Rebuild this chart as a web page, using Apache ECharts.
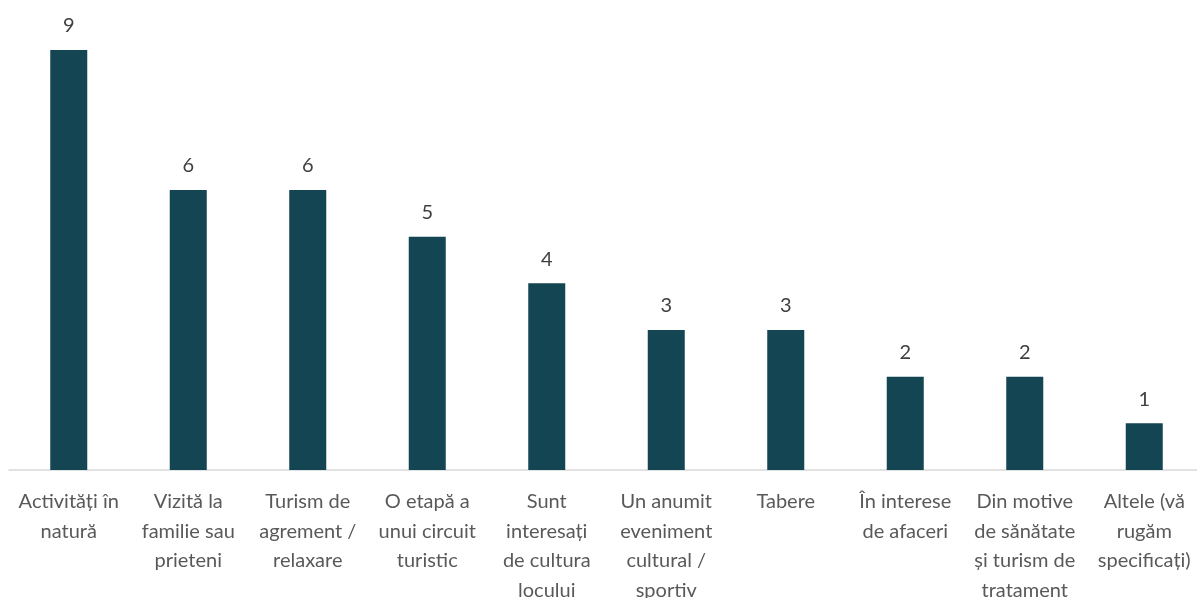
<!DOCTYPE html>
<html>
<head>
<meta charset="utf-8">
<script src="https://cdn.jsdelivr.net/npm/echarts@6/dist/echarts.min.js"></script>
<style>
  html, body { margin: 0; padding: 0; background: #ffffff; overflow: hidden; }
  #chart { width: 1197px; height: 598px; }
</style>
</head>
<body>
<div id="chart"></div>
<script>
// Motivul vizitei – număr de răspunsuri
const categories = [
  'Activități în\nnatură',
  'Vizită la\nfamilie sau\nprieteni',
  'Turism de\nagrement /\nrelaxare',
  'O etapă a\nunui circuit\nturistic',
  'Sunt\ninteresați\nde cultura\nlocului',
  'Un anumit\neveniment\ncultural /\nsportiv',
  'Tabere',
  'În interese\nde afaceri',
  'Din motive\nde sănătate\nși turism de\ntratament',
  'Altele (vă\nrugăm\nspecificați)'
];
const values = [9, 6, 6, 5, 4, 3, 3, 2, 2, 1];

const font = 'Lato, "Open Sans", sans-serif';
const chart = echarts.init(document.getElementById('chart'), null, { renderer: 'canvas' });
chart.setOption({
  animation: false,
  textStyle: { fontFamily: font },
  grid: {
    left: 9, right: -7, top: 50, bottom: 128,
    containLabel: false,
    outerBoundsMode: 'none'
  },
  xAxis: {
    type: 'category',
    data: categories,
    axisLine: { lineStyle: { color: '#d9d9d9', width: 1.5 } },
    axisTick: { show: false },
    axisLabel: {
      interval: 0,
      hideOverlap: false,
      margin: 17,
      color: '#595959',
      fontSize: 20,
      lineHeight: 29.5,
      fontFamily: font
    }
  },
  yAxis: {
    type: 'value',
    min: 0,
    max: 9,
    show: false,
    splitLine: { show: false }
  },
  series: [{
    type: 'bar',
    data: values,
    barWidth: 37,
    itemStyle: { color: '#134552' },
    label: {
      show: true,
      position: 'top',
      distance: 14,
      color: '#404040',
      fontSize: 20,
      fontFamily: font
    }
  }]
});
</script>
</body>
</html>
